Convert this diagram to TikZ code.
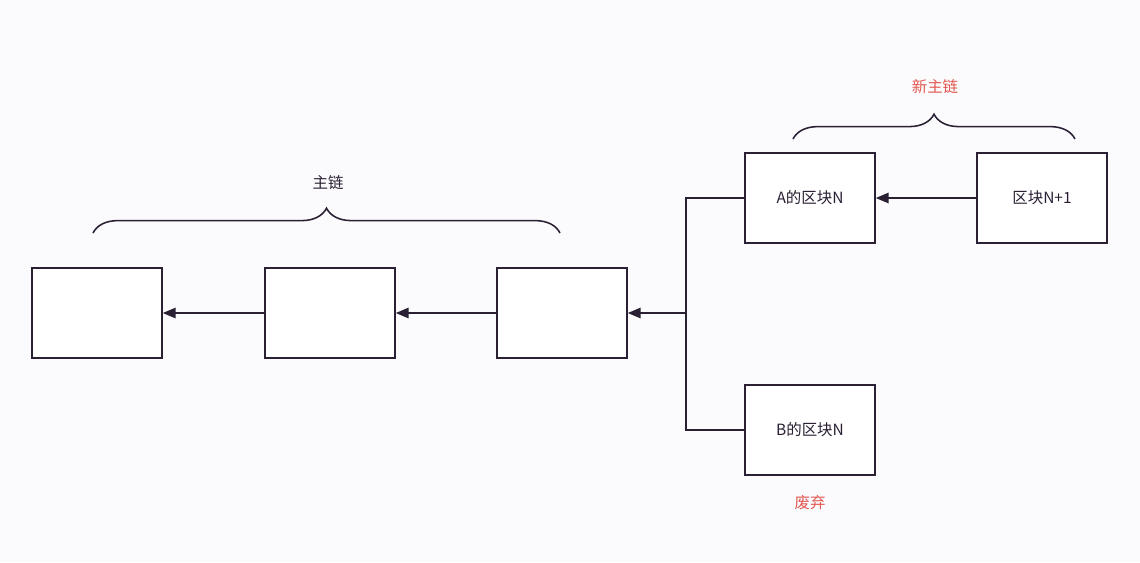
\documentclass[tikz,border=0pt]{standalone}
\usepackage{fontspec}
\setmainfont{Noto Sans CJK SC}
\usepackage{tikz}
\usetikzlibrary{arrows.meta, positioning, decorations.pathreplacing}

\definecolor{inkdark}{HTML}{2A1F33}
\definecolor{inkred}{HTML}{E2574F}
\definecolor{paper}{HTML}{FBFBFD}

\begin{document}
\begin{tikzpicture}[
  x=0.025cm, y=-0.025cm,
  blk/.style={rectangle, draw=inkdark, line width=1.1pt, fill=white, minimum width=3.25cm, minimum height=2.25cm, font=\fontsize{11}{13}\selectfont, text=inkdark, inner sep=0pt},
  arr/.style={draw=inkdark, line width=1.1pt, -{Triangle[length=0.32cm, width=0.26cm]}},
  lnk/.style={draw=inkdark, line width=1.1pt},
  brc/.style={draw=inkdark, line width=1.1pt, decorate, decoration={brace, amplitude=0.62cm}},
  lbl/.style={font=\fontsize{11}{13}\selectfont, text=inkdark},
  redlbl/.style={font=\fontsize{11}{13}\selectfont, text=inkred},
]
\fill[paper] (0,0) rectangle (1140,562);
\useasboundingbox (0,0) rectangle (1140,562);

% main chain
\node[blk] (b1) at (97,313) {};
\node[blk] (b2) at (330,313) {};
\node[blk] (b3) at (562,313) {};

% fork
\node[blk] (ba) at (810,198) {A的区块N};
\node[blk] (bn) at (1042,198) {区块N+1};
\node[blk] (bb) at (810,430) {B的区块N};
\coordinate (j) at (686,313);

\draw[arr] (b2.west) -- (b1.east);
\draw[arr] (b3.west) -- (b2.east);
\draw[arr] (j) -- (b3.east);
\draw[arr] (bn.west) -- (ba.east);
\draw[lnk] (ba.west) -| (j) |- (bb.west);

% braces and labels
\draw[brc] (93,233) -- (560,233);
\node[lbl] (main) at (328,183) {主链};
\draw[brc] (793,139) -- (1075,139);
\node[redlbl] (newmain) at (935,87) {新主链};
\node[redlbl] (drop) at (810,503) {废弃};
\end{tikzpicture}
\end{document}
